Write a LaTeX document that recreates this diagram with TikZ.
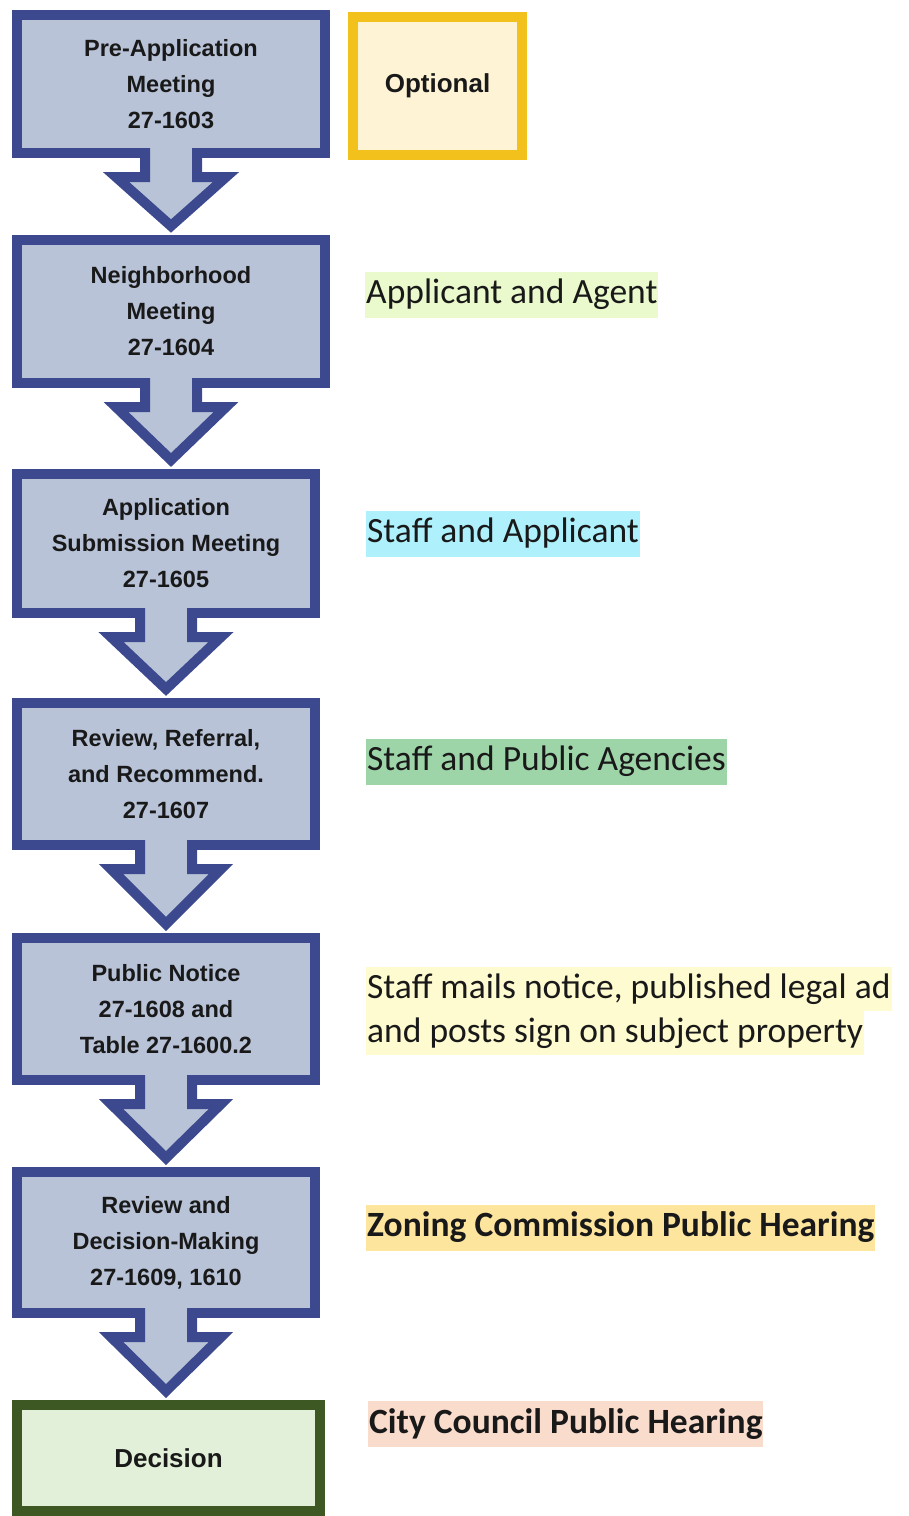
\documentclass[tikz,border=0pt]{standalone}
\usepackage{fontspec}
\setmainfont{Carlito}
\newfontfamily\boxfont{Liberation Sans}
\usetikzlibrary{calc}
\definecolor{stepfill}{RGB}{184,195,216}
\definecolor{stepline}{RGB}{60,73,142}
\definecolor{endfill}{RGB}{226,240,217}
\definecolor{endline}{RGB}{62,88,36}
\definecolor{optfill}{RGB}{254,243,213}
\definecolor{optline}{RGB}{243,193,27}
\definecolor{agentbg}{RGB}{234,250,205}
\definecolor{staffbg}{RGB}{174,240,251}
\definecolor{agencybg}{RGB}{158,213,168}
\definecolor{noticebg}{RGB}{255,251,208}
\definecolor{zoningbg}{RGB}{253,229,158}
\definecolor{councilbg}{RGB}{250,220,204}

\begin{document}
\begin{tikzpicture}[x=1pt, y=-1pt,
    stepbox/.style={draw=stepline, fill=stepfill, line width=10pt, outer sep=0pt,
        align=center, text=black!90, font=\boxfont\bfseries\fontsize{23.5}{36}\selectfont},
    hilite/.style={anchor=west, inner xsep=1pt, inner ysep=0pt, minimum height=46pt,
        text=black!90, font=\fontsize{35.5}{43}\selectfont}]
    \useasboundingbox (0, 0) rectangle (908, 1516);

    \node[stepbox, minimum width=308pt, minimum height=138pt] (premeet) at (171, 84) {Pre-Application\\Meeting\\27-1603};
    \node[stepbox, minimum width=308pt, minimum height=143pt] (nbhd) at (171, 311.5) {Neighborhood\\Meeting\\27-1604};
    \node[stepbox, minimum width=298pt, minimum height=139pt] (submit) at (166, 543.5) {Application\\Submission Meeting\\27-1605};
    \node[stepbox, minimum width=298pt, minimum height=142pt] (review) at (166, 774) {Review, Referral,\\and Recommend.\\27-1607};
    \node[stepbox, minimum width=298pt, minimum height=142pt] (notice) at (166, 1009) {Public Notice\\27-1608 and\\Table 27-1600.2};
    \node[stepbox, minimum width=298pt, minimum height=141pt] (hearing) at (166, 1242.5) {Review and\\Decision-Making\\27-1609, 1610};
    \node[stepbox, draw=endline, fill=endfill, minimum width=303pt, minimum height=106pt,
        font=\boxfont\bfseries\fontsize{26}{30}\selectfont] (decision) at (168.5, 1458) {Decision};

    \node[stepbox, draw=optline, fill=optfill, minimum width=169pt, minimum height=138pt,
        font=\boxfont\bfseries\fontsize{26}{30}\selectfont] (opt) at (437.5, 86) {Optional};

    \foreach \a/\b in {premeet/nbhd, nbhd/submit, submit/review, review/notice, notice/hearing, hearing/decision} {
        \fill[stepfill] ($(\a.south)+(-26,-6)$) -- ($(\a.south)+(-26,24)$) -- ($(\a.south)+(-55,24)$)
            -- ($(\a.south |- \b.north)+(0,-14)$) -- ($(\a.south)+(55,24)$) -- ($(\a.south)+(26,24)$)
            -- ($(\a.south)+(26,-6)$) -- cycle;
        \draw[stepline, line width=10pt] ($(\a.south)+(-26,-5)$) -- ($(\a.south)+(-26,24)$) -- ($(\a.south)+(-55,24)$)
            -- ($(\a.south |- \b.north)+(0,-14)$) -- ($(\a.south)+(55,24)$) -- ($(\a.south)+(26,24)$)
            -- ($(\a.south)+(26,-5)$);
    }

    \node[hilite, fill=agentbg] (agent) at (365, 294.5) {Applicant and Agent};
    \node[hilite, fill=staffbg] (staff) at (366, 533.5) {Staff and Applicant};
    \node[hilite, fill=agencybg] (agency) at (366, 761.5) {Staff and Public Agencies};
    \node[hilite, fill=noticebg, minimum height=44pt] (mails) at (366, 989) {Staff mails notice, published legal ad};
    \node[hilite, fill=noticebg, minimum height=44pt] (posts) at (366, 1033) {and posts sign on subject property};
    \node[hilite, fill=zoningbg, font=\bfseries\fontsize{35.5}{43}\selectfont] (zoning) at (366, 1227.5) {Zoning Commission Public Hearing};
    \node[hilite, fill=councilbg, font=\bfseries\fontsize{35.5}{43}\selectfont] (council) at (368, 1424) {City Council Public Hearing};
\end{tikzpicture}
\end{document}
